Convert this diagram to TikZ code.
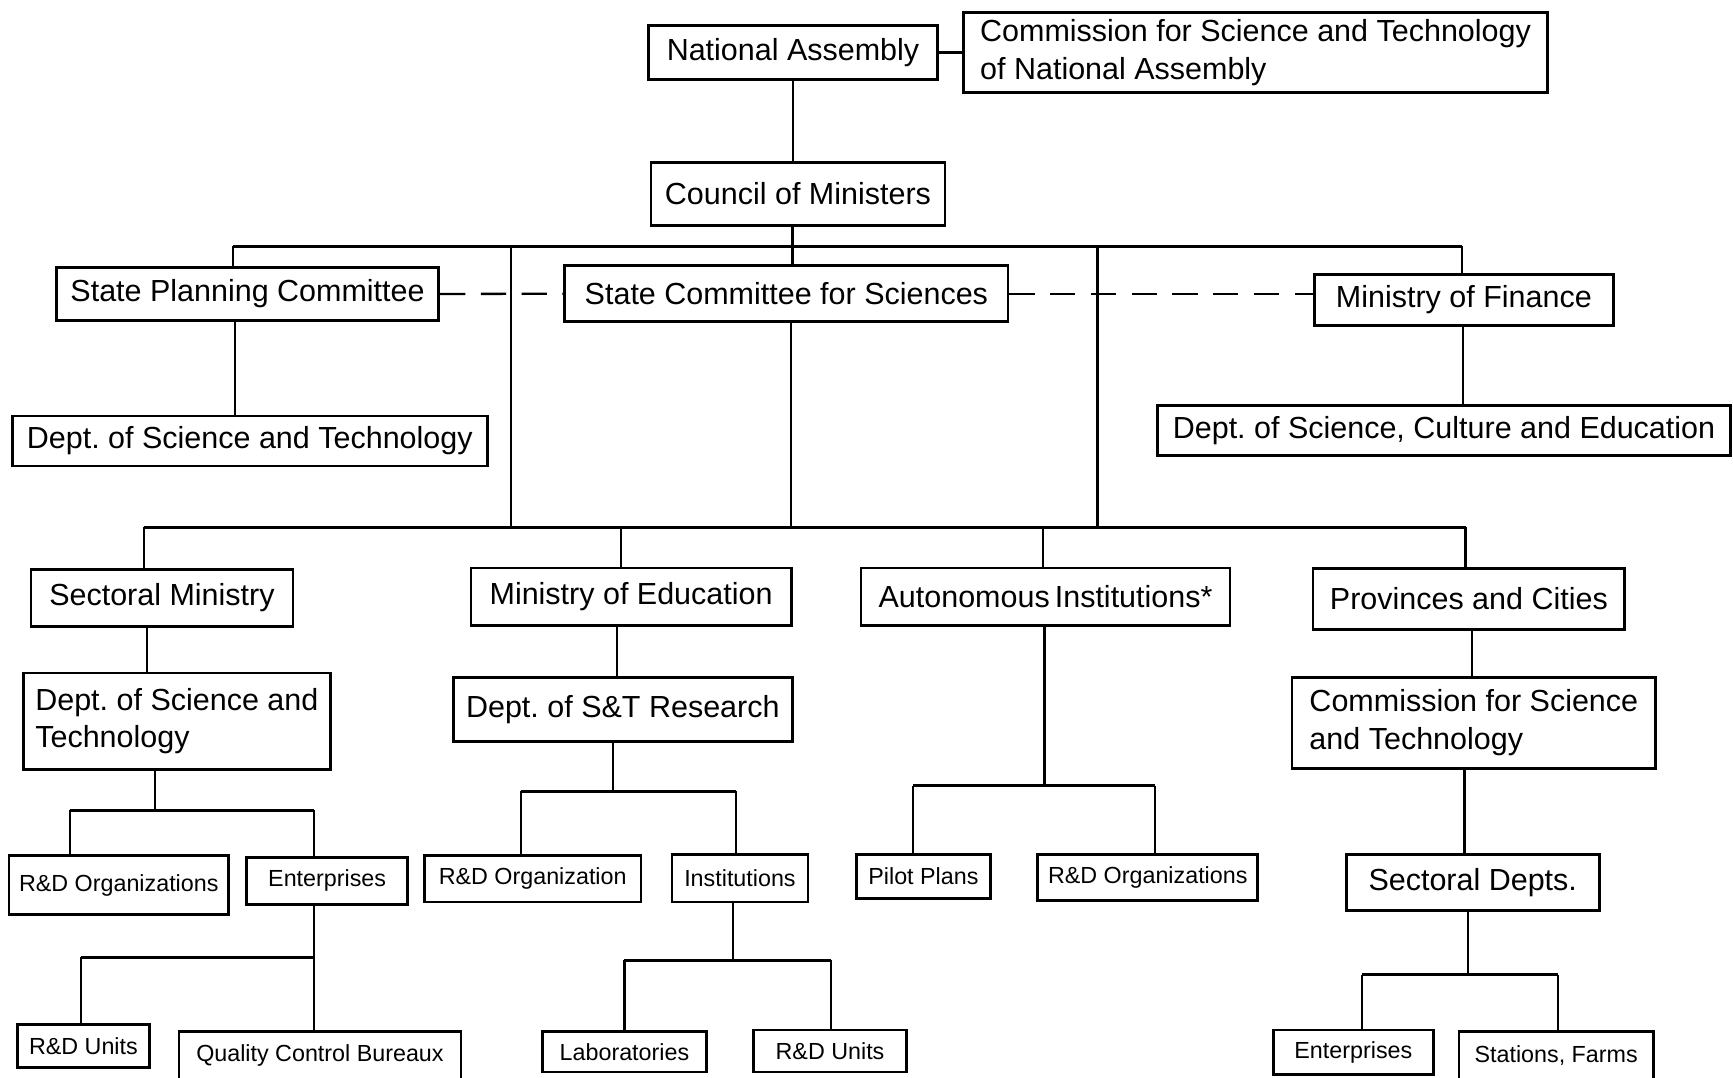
\documentclass[tikz,border=0pt]{standalone}
\usepackage{fontspec}
\setmainfont{Liberation Sans}
\frenchspacing

\begin{document}
\begin{tikzpicture}[x=0.02cm, y=-0.02cm]
		\tikzstyle {box} = [draw, line width=1.4pt, inner sep=0pt, font=\fontsize{15.7}{19.5}\selectfont]
		\tikzstyle {small box} = [box, font=\fontsize{12}{14}\selectfont]
		\tikzstyle {link} = [line width=1.1pt]
		\tikzstyle {bus} = [line width=1.4pt]
		\tikzstyle {liaison} = [line width=1.2pt, dash pattern=on 13pt off 8pt]

		\useasboundingbox (0,0) rectangle (1568,975);
		\clip (0,0) rectangle (1568,975);

		% top level
		\node[box, minimum width=5.22cm, minimum height=0.98cm] (na) at (717.5,47.5) {National Assembly};
		\node[box, minimum width=10.56cm, minimum height=1.44cm, align=left] (cst) at (1136,47.5) {Commission for Science and Technology\\of National Assembly};
		\node[box, minimum width=5.32cm, minimum height=1.14cm] (cm) at (722,175.5) {Council of Ministers};

		\node[box, minimum width=6.92cm, minimum height=0.97cm] (spc) at (224,266) {State Planning Committee};
		\node[box, minimum width=8.02cm, minimum height=1.02cm] (scs) at (711.5,265.7) {State Committee for Sciences};
		\node[box, minimum width=5.42cm, minimum height=0.93cm] (mof) at (1324.5,271.3) {Ministry of Finance};
		\node[box, minimum width=8.6cm, minimum height=0.9cm] (dst) at (226,399) {Dept. of Science and Technology};
		\node[box, minimum width=10.38cm, minimum height=0.9cm] (dsce) at (1306.5,389.5) {Dept. of Science, Culture and Education};

		% second level
		\node[box, minimum width=4.74cm, minimum height=1.04cm] (sm) at (146.5,541) {Sectoral Ministry};
		\node[box, minimum width=5.8cm, minimum height=1.04cm] (moe) at (571,540) {Ministry of Education};
		\node[box, minimum width=6.68cm, minimum height=1.04cm] (ai) at (946,540) {Autonomous\,Institutions*};
		\node[box, minimum width=5.64cm, minimum height=1.11cm] (pc) at (1329,541.8) {Provinces and Cities};

		\node[box, minimum width=5.56cm, minimum height=1.74cm, align=left] (smdst) at (160,652.5) {Dept. of Science and\\Technology};
		\node[box, minimum width=6.14cm, minimum height=1.16cm] (dstr) at (563.5,642) {Dept. of S\&T Research};
		\node[box, minimum width=6.58cm, minimum height=1.64cm, align=left] (pccst) at (1333.5,654) {Commission for Science\\and Technology};

		% third level
		\node[small box, minimum width=3.98cm, minimum height=1.07cm] (smrdo) at (107.5,800.7) {R\&D Organizations};
		\node[small box, minimum width=2.92cm, minimum height=0.85cm] (sment) at (296,797) {Enterprises};
		\node[small box, minimum width=3.92cm, minimum height=0.84cm] (moerdo) at (482,795) {R\&D Organization};
		\node[small box, minimum width=2.46cm, minimum height=0.86cm] (ins) at (669.5,794.5) {Institutions};
		\node[small box, minimum width=2.42cm, minimum height=0.8cm] (pp) at (835.5,792.8) {Pilot Plans};
		\node[small box, minimum width=3.98cm, minimum height=0.84cm] (airdo) at (1038.5,794) {R\&D Organizations};
		\node[box, minimum width=4.58cm, minimum height=1.02cm] (sd) at (1332.5,798.5) {Sectoral Depts.};

		% bottom level
		\node[small box, minimum width=2.38cm, minimum height=0.77cm] (entrdu) at (75.5,946.3) {R\&D Units};
		\node[small box, minimum width=5.1cm, minimum height=0.88cm] (qcb) at (289.5,955) {Quality Control Bureaux};
		\node[small box, minimum width=2.96cm, minimum height=0.73cm] (lab) at (565,951.7) {Laboratories};
		\node[small box, minimum width=2.76cm, minimum height=0.76cm] (insrdu) at (751,951) {R\&D Units};
		\node[small box, minimum width=2.9cm, minimum height=0.8cm] (sdent) at (1224.5,952) {Enterprises};
		\node[small box, minimum width=3.52cm, minimum height=0.88cm] (sf) at (1408,955) {Stations, Farms};

		% junctions
		\coordinate (j0) at (717,223);
		\coordinate (j0a) at (211,223);
		\coordinate (j0b) at (462,223);
		\coordinate (j0c) at (993,223);
		\coordinate (j0d) at (1323,223);
		\coordinate (j1) at (716,477);
		\coordinate (j1a) at (130,477);
		\coordinate (j1b) at (462,477);
		\coordinate (j1c) at (562,477);
		\coordinate (j1d) at (944,477);
		\coordinate (j1e) at (993,477);
		\coordinate (j1f) at (1326,477);

		\coordinate (v1) at (213,0);
		\coordinate (v2) at (1324,0);
		\coordinate (v3) at (133,0);
		\coordinate (v4) at (558,0);
		\coordinate (v5) at (1332,0);
		\coordinate (v6) at (1325,0);

		\coordinate (f1) at (140,733);
		\coordinate (f1l) at (63,733);
		\coordinate (f1r) at (284,733);
		\coordinate (f2) at (284,866);
		\coordinate (f2l) at (73,866);
		\coordinate (f3) at (555,716);
		\coordinate (f3l) at (471,716);
		\coordinate (f3r) at (666,716);
		\coordinate (f4) at (663,869);
		\coordinate (f4l) at (565,869);
		\coordinate (f4r) at (752,869);
		\coordinate (f5) at (945,711);
		\coordinate (f5l) at (826,711);
		\coordinate (f5r) at (1045,711);
		\coordinate (f6) at (1328,882);
		\coordinate (f6l) at (1232,882);
		\coordinate (f6r) at (1410,882);

		% top connectors
		\draw[line width=2pt] (na.east) -- (cst.west);
		\draw[link] (na.south) -- (na.south |- cm.north);
		\draw[link] (j0 |- cm.south) -- (j0);
		\draw[bus] (j0a) -- (j0d);
		\draw[link] (j0a) -- (j0a |- spc.north);
		\draw[link] (j0) -- (j0 |- scs.north);
		\draw[link] (j0d) -- (j0d |- mof.north);
		\draw[link] (j0b) -- (j1b);
		\draw[link] (j0c) -- (j1e);
		\draw[liaison] (spc.east) -- (scs.west);
		\draw[liaison] (scs.east) -- (scs.east -| mof.west);
		\draw[link] (v1 |- spc.south) -- (v1 |- dst.north);
		\draw[link] (v2 |- mof.south) -- (v2 |- dsce.north);

		% lower bus
		\draw[link] (j1 |- scs.south) -- (j1);
		\draw[bus] (j1a) -- (j1f);
		\draw[link] (j1a) -- (j1a |- sm.north);
		\draw[link] (j1c) -- (j1c |- moe.north);
		\draw[link] (j1d) -- (j1d |- ai.north);
		\draw[link] (j1f) -- (j1f |- pc.north);

		\draw[link] (v3 |- sm.south) -- (v3 |- smdst.north);
		\draw[link] (v4 |- moe.south) -- (v4 |- dstr.north);
		\draw[link] (v5 |- pc.south) -- (v5 |- pccst.north);
		\draw[link] (v6 |- pccst.south) -- (v6 |- sd.north);

		% forks
		\draw[link] (f1 |- smdst.south) -- (f1);
		\draw[bus] (f1l) -- (f1r);
		\draw[link] (f1l) -- (f1l |- smrdo.north);
		\draw[link] (f1r) -- (f1r |- sment.north);

		\draw[link] (f2 |- sment.south) -- (f2 |- qcb.north);
		\draw[bus] (f2l) -- (f2);
		\draw[link] (f2l) -- (f2l |- entrdu.north);

		\draw[link] (f3 |- dstr.south) -- (f3);
		\draw[bus] (f3l) -- (f3r);
		\draw[link] (f3l) -- (f3l |- moerdo.north);
		\draw[link] (f3r) -- (f3r |- ins.north);

		\draw[link] (f4 |- ins.south) -- (f4);
		\draw[bus] (f4l) -- (f4r);
		\draw[link] (f4l) -- (f4l |- lab.north);
		\draw[link] (f4r) -- (f4r |- insrdu.north);

		\draw[link] (f5 |- ai.south) -- (f5);
		\draw[bus] (f5l) -- (f5r);
		\draw[link] (f5l) -- (f5l |- pp.north);
		\draw[link] (f5r) -- (f5r |- airdo.north);

		\draw[link] (f6 |- sd.south) -- (f6);
		\draw[bus] (f6l) -- (f6r);
		\draw[link] (f6l) -- (f6l |- sdent.north);
		\draw[link] (f6r) -- (f6r |- sf.north);
	\end{tikzpicture}
\end{document}
